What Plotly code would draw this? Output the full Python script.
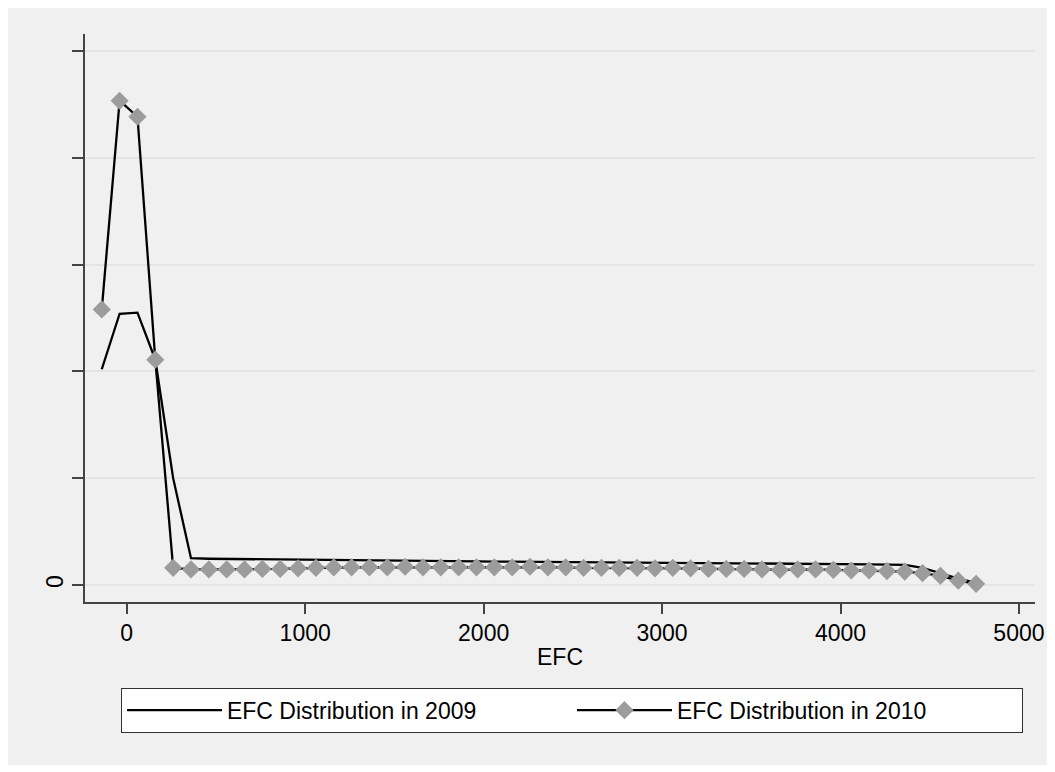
import plotly.graph_objects as go

# EFC bin midpoints
efc = [-140, -40, 60, 160, 260, 360, 460, 560, 660, 760,
       860, 960, 1060, 1160, 1260, 1360, 1460, 1560, 1660, 1760,
       1860, 1960, 2060, 2160, 2260, 2360, 2460, 2560, 2660, 2760,
       2860, 2960, 3060, 3160, 3260, 3360, 3460, 3560, 3660, 3760,
       3860, 3960, 4060, 4160, 4260, 4360, 4460, 4560, 4660, 4760]

# density (axis units, only 0 labelled on the original)
dist_2009 = [2.02, 2.54, 2.55, 2.11, 1.00, 0.25, 0.245, 0.243, 0.240, 0.238,
             0.235, 0.233, 0.232, 0.230, 0.229, 0.227, 0.226, 0.225, 0.224, 0.222,
             0.221, 0.220, 0.219, 0.218, 0.217, 0.216, 0.215, 0.213, 0.212, 0.211,
             0.210, 0.208, 0.207, 0.206, 0.205, 0.204, 0.203, 0.202, 0.200, 0.199,
             0.198, 0.197, 0.195, 0.193, 0.190, 0.187, 0.16, 0.11, 0.06, 0.02]

dist_2010 = [2.58, 4.535, 4.385, 2.11, 0.16, 0.145, 0.145, 0.145, 0.145, 0.15,
             0.15, 0.155, 0.16, 0.165, 0.165, 0.165, 0.165, 0.17, 0.165, 0.165,
             0.165, 0.165, 0.165, 0.165, 0.17, 0.165, 0.165, 0.16, 0.16, 0.16,
             0.16, 0.155, 0.16, 0.155, 0.15, 0.15, 0.15, 0.145, 0.14, 0.145,
             0.145, 0.14, 0.135, 0.135, 0.13, 0.125, 0.11, 0.085, 0.04, 0.01]

x_ticks = [0, 1000, 2000, 3000, 4000, 5000]
y_ticks = [0, 1, 2, 3, 4, 5]
y_ticktext = ["0", "", "", "", "", ""]

FONT = "Liberation Sans, Arial, sans-serif"

fig = go.Figure()
fig.add_trace(go.Scatter(
    x=efc, y=dist_2009, mode="lines", name="EFC Distribution in 2009",
    line=dict(color="black", width=2.3),
))
fig.add_trace(go.Scatter(
    x=efc, y=dist_2010, mode="lines+markers", name="EFC Distribution in 2010",
    line=dict(color="black", width=2.3),
    marker=dict(symbol="diamond", size=14, color="#9c9c9c", line=dict(width=0)),
))

# light grey graph region (the page adds an 8px white body margin)
fig.add_shape(type="rect", xref="paper", yref="paper",
              x0=-0.09, x1=1.0137, y0=-0.287, y1=1.06,
              fillcolor="#f0f0f0", line=dict(width=0), layer="below")

fig.update_layout(
    width=1047, height=764,
    margin=dict(l=77, r=20, t=26, b=170),
    paper_bgcolor="white",
    plot_bgcolor="white",
    font=dict(family=FONT, size=23, color="black"),
    showlegend=True,
    legend=dict(
        orientation="h", x=0.5126, xanchor="center", y=-0.151, yanchor="top",
        bgcolor="white", bordercolor="#333333", borderwidth=1,
        font=dict(family=FONT, size=23, color="black"),
        entrywidth=340, itemwidth=95,
    ),
    xaxis=dict(
        range=[-234, 5090], tickvals=x_ticks, ticks="outside", ticklen=10,
        tickwidth=1.5, tickcolor="#444444", showline=True, linecolor="#444444",
        linewidth=1.5, showgrid=False, zeroline=False, automargin=False,
        title=dict(text="EFC", standoff=4, font=dict(size=23)),
        tickfont=dict(size=23),
    ),
    yaxis=dict(
        range=[-0.16, 5.16], tickvals=y_ticks, ticktext=y_ticktext,
        ticks="outside", ticklen=11, tickwidth=1.5, tickcolor="#444444",
        showline=True, linecolor="#444444", linewidth=1.5, automargin=False,
        showgrid=True, gridcolor="#e4e4e4", gridwidth=2, zeroline=False,
        tickangle=-90, tickfont=dict(size=23),
    ),
)

fig.write_html("out.html")
